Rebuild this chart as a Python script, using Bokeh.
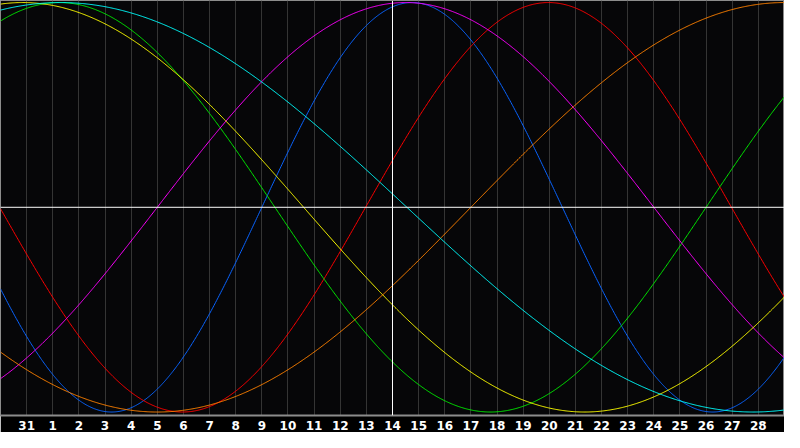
import numpy as np
from bokeh.plotting import figure
from bokeh.models import FixedTicker, Span
from bokeh.embed import file_html
from bokeh.resources import INLINE

# Tick positions (grid lines) and their day labels
tick_pos = list(range(1, 30))
tick_labels = ["31"] + [str(d) for d in range(1, 29)]
center_day = 15  # "14" - today marker

# Biorhythm cycles: length (days), day position of the peak, colour
cycle_names = ["physical", "emotional", "intellectual", "intuitive", "aesthetic", "awareness", "spiritual"]
cycle_length = [23, 28, 33, 38, 43, 48, 53]
cycle_peak = [15.75, 20.97, 2.25, 15.5, 0.85, 30.0, 2.3]
cycle_color = ["#0a64ff", "#ff0000", "#00e800", "#ff00ff", "#ffff00", "#ff8000", "#00ffff"]

p = figure(width=784, height=432, x_range=(0, 30), y_range=(-1.017, 1.01),
           output_backend="svg", toolbar_location=None, min_border=0,
           background_fill_color="#060608", border_fill_color="#000000")

p.outline_line_color = "#8c8c8c"
p.outline_line_width = 1

p.yaxis.visible = False
p.ygrid.visible = False

p.xaxis.ticker = FixedTicker(ticks=tick_pos)
p.xaxis.major_label_overrides = {t: l for t, l in zip(tick_pos, tick_labels)}
p.xaxis.axis_line_color = "#8c8c8c"
p.xaxis.axis_line_width = 2
p.xaxis.major_tick_line_color = None
p.xaxis.minor_tick_line_color = None
p.xaxis.major_tick_out = 0
p.xaxis.major_tick_in = 0
p.xaxis.major_label_standoff = 5
p.xaxis.major_label_text_color = "#ffffff"
p.xaxis.major_label_text_font = "DejaVu Sans"
p.xaxis.major_label_text_font_style = "bold"
p.xaxis.major_label_text_font_size = "12px"

p.xgrid.ticker = FixedTicker(ticks=tick_pos)
p.xgrid.grid_line_color = "#343434"
p.xgrid.grid_line_width = 1

p.add_layout(Span(location=center_day, dimension="height", line_color="#ffffff", line_width=1))
p.add_layout(Span(location=0, dimension="width", line_color="#ffffff", line_width=1))

xs = np.linspace(0, 30, 901)
for name, L, pk, c in zip(cycle_names, cycle_length, cycle_peak, cycle_color):
    ys = np.cos(2 * np.pi * (xs - pk) / L)
    p.line(xs, ys, line_color=c, line_width=1)

open("out.html", "w").write(file_html(p, INLINE))
